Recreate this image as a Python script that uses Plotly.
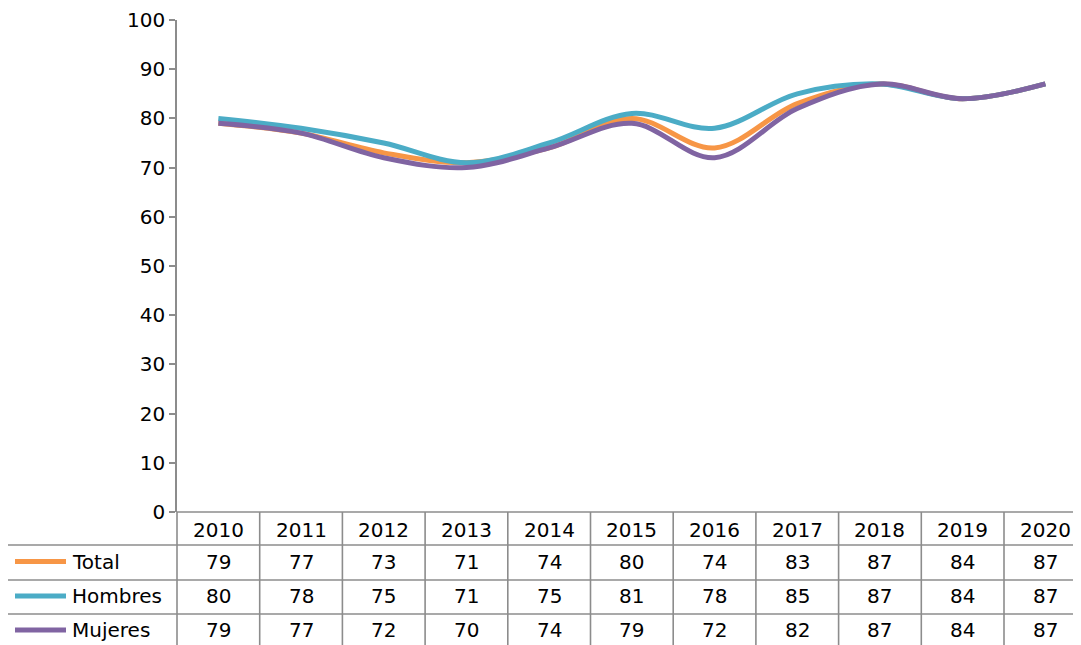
import plotly.graph_objects as go

years = ["2010", "2011", "2012", "2013", "2014", "2015", "2016", "2017", "2018", "2019", "2020"]
total = [79, 77, 73, 71, 74, 80, 74, 83, 87, 84, 87]
hombres = [80, 78, 75, 71, 75, 81, 78, 85, 87, 84, 87]
mujeres = [79, 77, 72, 70, 74, 79, 72, 82, 87, 84, 87]
series_names = ["Total", "Hombres", "Mujeres"]
series_values = [total, hombres, mujeres]
series_colors = ["#F79646", "#4BACC6", "#8064A2"]
y_ticks = list(range(0, 101, 10))

OFF = 8  # page body margin
W, H = 1081, 645
L, R, T, B = 177 - OFF, 0, 20 - OFF, 0
PW = W - L - R
PH = H - T - B
FONT = "Verdana, DejaVu Sans, sans-serif"
GRAY = "#8C8C8C"
FS = 20


def py(ypix):
    # screen pixel -> paper coordinate
    return (H - B - (ypix - OFF)) / PH


def px(xpix):
    return ((xpix - OFF) - L) / PW


fig = go.Figure()
for name, vals, col in zip(series_names, series_values, series_colors):
    fig.add_trace(go.Scatter(
        x=list(range(len(years))), y=vals, name=name, mode="lines",
        line=dict(color=col, width=5, shape="spline", smoothing=1.0),
        showlegend=False, hoverinfo="skip"))

n = len(years)
col_w = 82.7
xmax = -0.5 + PW / col_w
shapes = []
annotations = []
row_edges = [512, 545, 580, 614, 648]
LW = 1.6
shapes.append(dict(type="line", xref="paper", yref="paper", x0=0, x1=1.02,
                   y0=py(row_edges[0]), y1=py(row_edges[0]), line=dict(color=GRAY, width=LW)))
for ye in row_edges[1:]:
    shapes.append(dict(type="line", xref="paper", yref="paper", x0=px(7), x1=1.02,
                       y0=py(ye), y1=py(ye), line=dict(color=GRAY, width=LW)))
for i in range(n):
    xb = i + 0.5
    shapes.append(dict(type="line", xref="x", yref="paper", x0=xb, x1=xb,
                       y0=py(row_edges[0]), y1=py(670), line=dict(color=GRAY, width=LW)))
shapes.append(dict(type="line", xref="paper", yref="paper", x0=0, x1=0,
                   y0=py(row_edges[0]), y1=py(670), line=dict(color=GRAY, width=LW)))
shapes.append(dict(type="line", xref="paper", yref="paper", x0=px(7), x1=px(7),
                   y0=py(row_edges[1]), y1=py(670), line=dict(color=GRAY, width=LW)))

for i, yr in enumerate(years):
    annotations.append(dict(x=i, y=py((row_edges[0] + row_edges[1]) / 2 + 1), xref="x", yref="paper",
                            xanchor="center", yanchor="middle",
                            text=yr, showarrow=False, font=dict(size=FS, color="black", family=FONT)))
for r, (name, vals, col) in enumerate(zip(series_names, series_values, series_colors)):
    yc = py((row_edges[r + 1] + row_edges[r + 2]) / 2 - 1)
    shapes.append(dict(type="line", xref="paper", yref="paper", x0=px(15), x1=px(66),
                       y0=yc, y1=yc, line=dict(color=col, width=5)))
    annotations.append(dict(x=px(70), y=yc, xref="paper", yref="paper", xanchor="left", yanchor="middle",
                            text=name, showarrow=False, font=dict(size=FS, color="black", family=FONT)))
    for i, v in enumerate(vals):
        annotations.append(dict(x=i, y=yc, xref="x", yref="paper", xanchor="center", yanchor="middle",
                                text=str(v), showarrow=False,
                                font=dict(size=FS, color="black", family=FONT)))

fig.update_layout(
    width=W, height=H,
    margin=dict(l=L, r=R, t=T, b=B, autoexpand=False),
    plot_bgcolor="white", paper_bgcolor="white",
    font=dict(family=FONT, size=FS, color="black"),
    xaxis=dict(range=[-0.5, xmax], showticklabels=False, showgrid=False, zeroline=False,
               showline=False, ticks="", automargin=False),
    yaxis=dict(domain=[py(512), 1], range=[0, 100], tickvals=y_ticks, automargin=False,
               showgrid=False, zeroline=False, showline=True, linecolor=GRAY, linewidth=LW,
               ticks="outside", ticklen=6, tickcolor=GRAY, tickwidth=LW,
               tickfont=dict(size=FS, family=FONT, color="black")),
    shapes=shapes, annotations=annotations,
)
fig.write_html("out.html")
